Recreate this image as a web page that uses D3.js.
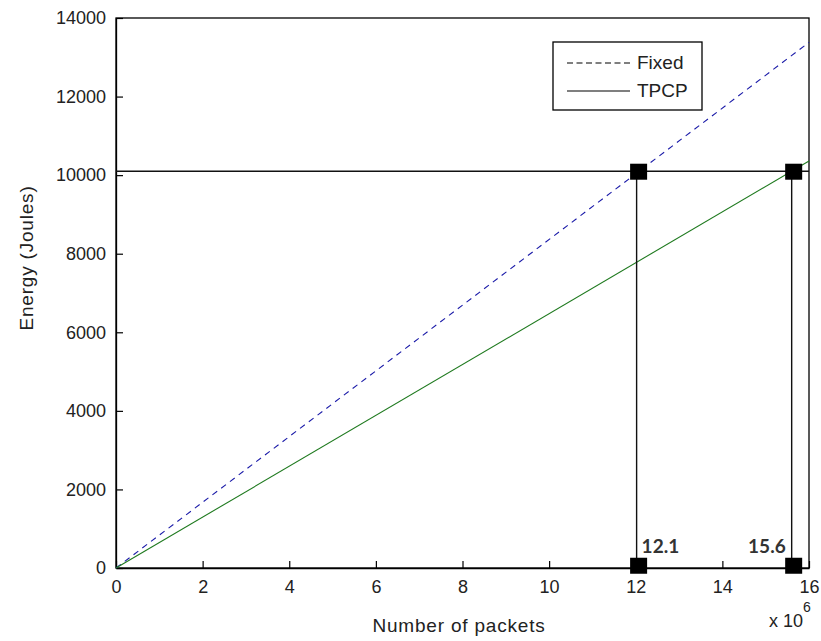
<!DOCTYPE html>
<html><head><meta charset="utf-8">
<script src="https://cdn.jsdelivr.net/npm/d3@7/dist/d3.min.js"></script>
<style>
html,body{margin:0;padding:0;background:#fff;}
svg{display:block;font-family:"Liberation Sans",Arial,sans-serif;}
</style></head>
<body><svg id="c" width="821" height="641"></svg>
<script>
// ---- data ----
const xTicks = [0, 2, 4, 6, 8, 10, 12, 14, 16];
const yTicks = [0, 2000, 4000, 6000, 8000, 10000, 12000, 14000];
const fixedX = [0, 16];
const fixedY = [0, 13380];
const tpcpX = [0, 16];
const tpcpY = [0, 10360];
const refLevel = 10100;           // horizontal reference line
const markerX = [12.02, 15.6];    // vertical drop lines
const markerLabels = ["12.1", "15.6"];
const markerBase = 70;            // bottom squares value
const seriesNames = ["Fixed", "TPCP"];

// ---- layout ----
const svg = d3.select("#c");
const L = 116, R = 809, T = 18, B = 568;
const x = d3.scaleLinear().domain([0, 16]).range([L, R]);
const y = d3.scaleLinear().domain([0, 14000]).range([B, T]);
const fs = 18;
const txt = "#222";

// frame
svg.append("rect").attr("x", L).attr("y", T).attr("width", R - L).attr("height", B - T)
  .attr("fill", "#fff").attr("stroke", "#000").attr("stroke-width", 1.3);

// axes (inner ticks)
const gx = svg.append("g").attr("transform", `translate(0,${B})`)
  .call(d3.axisBottom(x).tickValues(xTicks).tickSizeInner(-7).tickSizeOuter(0).tickPadding(12).tickFormat(d3.format("d")));
const gy = svg.append("g").attr("transform", `translate(${L},0)`)
  .call(d3.axisLeft(y).tickValues(yTicks).tickSizeInner(-7).tickSizeOuter(0).tickPadding(10).tickFormat(d3.format("d")));
[gx, gy].forEach(g => {
  g.select(".domain").attr("stroke", "#000").attr("stroke-width", 1.3);
  g.selectAll(".tick line").attr("stroke", "#000").attr("stroke-width", 1.2);
  g.selectAll(".tick text").attr("font-size", fs).attr("fill", txt)
    .attr("font-family", "'Liberation Sans',Arial,sans-serif");
});

// series
const line = d3.line().x(d => x(d[0])).y(d => y(d[1]));
svg.append("path").datum(fixedX.map((v, i) => [v, fixedY[i]]))
  .attr("d", line).attr("fill", "none").attr("stroke", "#1a1aa8").attr("stroke-width", 1.1)
  .attr("stroke-dasharray", "6,5");
svg.append("path").datum(tpcpX.map((v, i) => [v, tpcpY[i]]))
  .attr("d", line).attr("fill", "none").attr("stroke", "#1f7a1f").attr("stroke-width", 1.1);

// reference lines
svg.append("line").attr("x1", x(0)).attr("x2", x(16)).attr("y1", y(refLevel)).attr("y2", y(refLevel))
  .attr("stroke", "#111").attr("stroke-width", 1.4);
markerX.forEach(v => {
  svg.append("line").attr("x1", x(v)).attr("x2", x(v)).attr("y1", y(refLevel)).attr("y2", y(0))
    .attr("stroke", "#111").attr("stroke-width", 1.4);
});
// squares
const sq = 17;
markerX.forEach(v => {
  [refLevel, markerBase].forEach(lv => {
    svg.append("rect").attr("x", x(v) - sq / 2 + 2).attr("y", y(lv) - sq / 2 + 1)
      .attr("width", sq).attr("height", sq - 1).attr("fill", "#000");
  });
});
// marker labels
svg.append("text").attr("x", x(markerX[0]) + 5).attr("y", B - 15).text(markerLabels[0])
  .attr("font-family", "Lato,'Open Sans',sans-serif").attr("font-weight", "bold")
  .attr("font-size", 19).attr("fill", "#333");
svg.append("text").attr("x", x(markerX[1]) - 6).attr("y", B - 15).attr("text-anchor", "end").text(markerLabels[1])
  .attr("font-family", "Lato,'Open Sans',sans-serif").attr("font-weight", "bold")
  .attr("font-size", 19).attr("fill", "#333");

// legend
const lg = svg.append("g");
lg.append("rect").attr("x", 553).attr("y", 42).attr("width", 149).attr("height", 68)
  .attr("fill", "#fff").attr("stroke", "#000").attr("stroke-width", 1.3);
lg.append("line").attr("x1", 567).attr("x2", 630).attr("y1", 63).attr("y2", 63)
  .attr("stroke", "#000").attr("stroke-width", 1.2).attr("stroke-dasharray", "6,3.5");
lg.append("line").attr("x1", 567).attr("x2", 630).attr("y1", 91).attr("y2", 91)
  .attr("stroke", "#000").attr("stroke-width", 1.2);
lg.append("text").attr("x", 637).attr("y", 69).text(seriesNames[0]).attr("font-size", 19).attr("fill", txt);
lg.append("text").attr("x", 637).attr("y", 97).text(seriesNames[1]).attr("font-size", 19).attr("fill", txt);

// axis labels
svg.append("text").attr("x", 459).attr("y", 632).attr("text-anchor", "middle")
  .attr("font-size", 19).attr("letter-spacing", 0.8).attr("fill", txt).text("Number of packets");
svg.append("text").attr("transform", `translate(33,${(T + B) / 2 - 35}) rotate(-90)`)
  .attr("text-anchor", "middle").attr("font-size", 19).attr("letter-spacing", 0.8).attr("fill", txt).text("Energy (Joules)");
// exponent
const ex = svg.append("text").attr("x", 769).attr("y", 627).attr("font-size", fs).attr("fill", txt);
ex.append("tspan").text("x 10");
ex.append("tspan").attr("dy", -15).attr("font-size", 14).text("6");
</script></body></html>
